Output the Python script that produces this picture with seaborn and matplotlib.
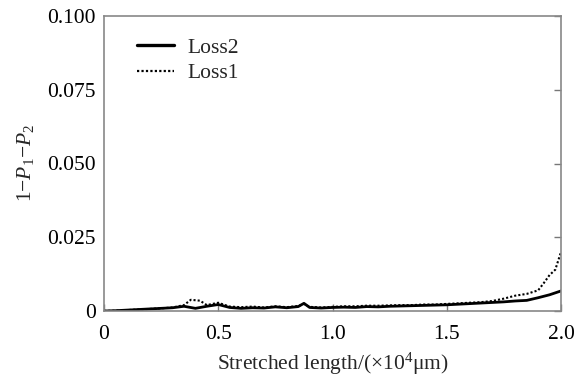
import numpy as np
import pandas as pd
import matplotlib
matplotlib.use("Agg")
import matplotlib.pyplot as plt
import seaborn as sns

# ---- data ----
x_loss2 = [0.0, 0.05, 0.1, 0.15, 0.2, 0.25, 0.3, 0.35, 0.4, 0.45, 0.5, 0.55, 0.6, 0.65,
           0.7, 0.75, 0.8, 0.85, 0.875, 0.9, 0.95, 1.0, 1.05, 1.1, 1.15, 1.2, 1.25, 1.3,
           1.35, 1.4, 1.45, 1.5, 1.55, 1.6, 1.65, 1.7, 1.75, 1.8, 1.85, 1.9, 1.95, 2.0]
y_loss2 = [0.0000, 0.0001, 0.0003, 0.0005, 0.0007, 0.0009, 0.0011, 0.0016, 0.0009, 0.0016,
           0.0022, 0.0012, 0.0009, 0.0011, 0.0010, 0.0014, 0.0011, 0.0015, 0.0026, 0.0012,
           0.0010, 0.0012, 0.0013, 0.0012, 0.0015, 0.0014, 0.0016, 0.0017, 0.0018, 0.0019,
           0.0020, 0.0021, 0.0023, 0.0025, 0.0027, 0.0029, 0.0031, 0.0034, 0.0036, 0.0045,
           0.0055, 0.0068]

x_loss1 = [0.0, 0.05, 0.1, 0.15, 0.2, 0.25, 0.3, 0.35, 0.38, 0.42, 0.45, 0.5, 0.55, 0.6,
           0.65, 0.7, 0.75, 0.8, 0.85, 0.875, 0.9, 0.95, 1.0, 1.05, 1.1, 1.15, 1.2, 1.25,
           1.3, 1.35, 1.4, 1.45, 1.5, 1.55, 1.6, 1.65, 1.7, 1.75, 1.8, 1.85, 1.9, 1.925,
           1.95, 1.975, 2.0]
y_loss1 = [0.0000, 0.0001, 0.0003, 0.0005, 0.0007, 0.0009, 0.0012, 0.0020, 0.0038, 0.0035,
           0.0020, 0.0028, 0.0015, 0.0013, 0.0015, 0.0012, 0.0016, 0.0013, 0.0017, 0.0024,
           0.0014, 0.0012, 0.0014, 0.0016, 0.0016, 0.0018, 0.0018, 0.0019, 0.0020, 0.0020,
           0.0022, 0.0022, 0.0024, 0.0026, 0.0028, 0.0030, 0.0034, 0.0042, 0.0052, 0.0058,
           0.0070, 0.0095, 0.0122, 0.0140, 0.0200]

x_ticks = [0, 0.5, 1.0, 1.5, 2.0]
x_ticklabels = ["0", "0.5", "1.0", "1.5", "2.0"]
y_ticks = [0, 0.025, 0.05, 0.075, 0.1]
y_ticklabels = ["0", "0.025", "0.050", "0.075", "0.100"]

df = pd.concat([
    pd.DataFrame({"x": x_loss2, "y": y_loss2, "series": "Loss2"}),
    pd.DataFrame({"x": x_loss1, "y": y_loss1, "series": "Loss1"}),
], ignore_index=True)

sns.set_theme(style="white")
plt.rcParams["font.family"] = ["Liberation Serif", "DejaVu Serif"]
plt.rcParams["mathtext.fontset"] = "custom"
plt.rcParams["mathtext.rm"] = "Liberation Serif"
plt.rcParams["mathtext.it"] = "Liberation Serif:italic"

FS = 15.5

fig = plt.figure(figsize=(5.76, 3.76), dpi=100)
ax = fig.add_axes([104 / 576, 1 - 311 / 376, 457 / 576, 295 / 376])

sns.lineplot(data=df, x="x", y="y", hue="series", style="series",
             palette={"Loss2": "black", "Loss1": "black"},
             dashes={"Loss2": "", "Loss1": (1, 1)},
             hue_order=["Loss2", "Loss1"], style_order=["Loss2", "Loss1"],
             ax=ax, legend=True, estimator=None, sort=False)
for line, lw in zip(ax.lines, [2.0, 1.5]):
    line.set_linewidth(lw)

ax.set_xlim(0, 2.0)
ax.set_ylim(0, 0.1)
ax.set_xticks(x_ticks)
ax.set_xticklabels(x_ticklabels)
ax.set_yticks(y_ticks)
ax.set_yticklabels(y_ticklabels)
ax.tick_params(axis="both", direction="in", length=5, width=1, color="#777777",
               labelsize=FS, labelcolor="black")
ax.tick_params(axis="x", pad=10)
ax.tick_params(axis="y", pad=6, right=True)
ax.tick_params(axis="x", top=False, bottom=True)
for s in ax.spines.values():
    s.set_color("#888888")
    s.set_linewidth(1.2)
    s.set_visible(True)

ax.set_xlabel(r"Stretched length/(×10$^{4}$μm)", fontsize=FS, labelpad=5)
ax.set_ylabel(r"1$-P_1$$-P_2$", fontsize=FS, labelpad=8)

leg = ax.legend(loc="upper left", bbox_to_anchor=(0.045, 0.97), frameon=False,
                fontsize=FS, handlelength=1.7, handletextpad=0.6, labelspacing=0.25,
                borderaxespad=0.2)
for h, lw in zip(leg.get_lines(), [2.4, 1.6]):
    h.set_linewidth(lw)

fig.savefig("out.png", dpi=100)
